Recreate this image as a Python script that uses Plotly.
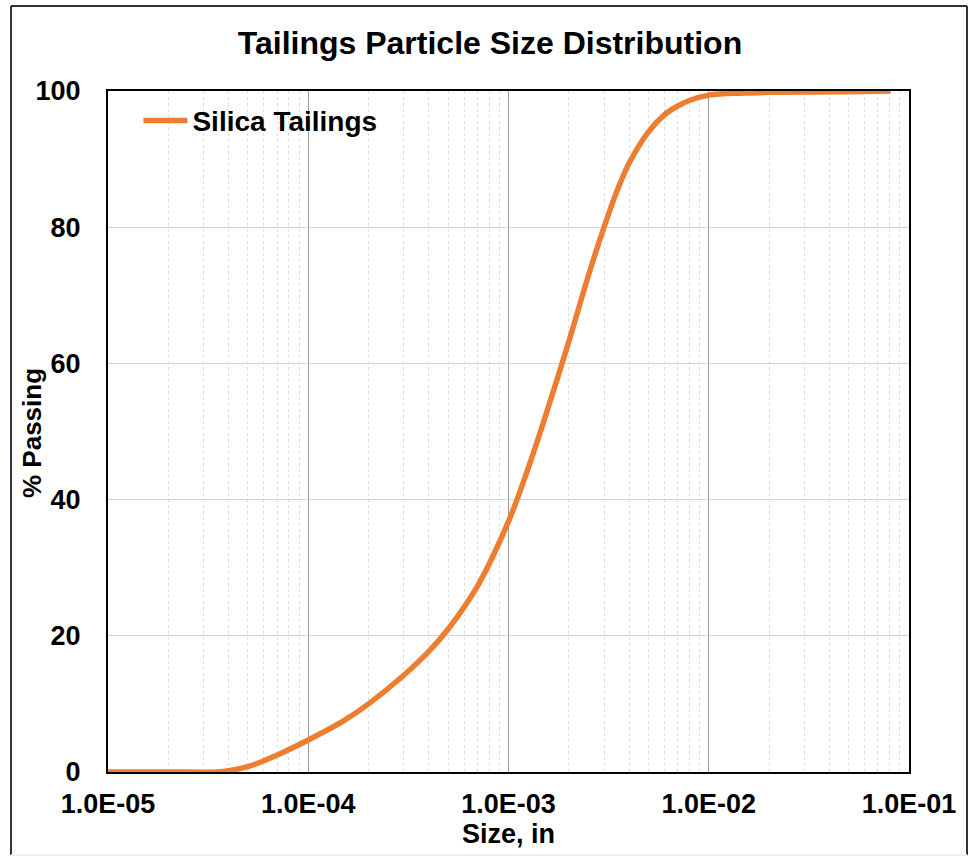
import plotly.graph_objects as go

# Particle size distribution of silica tailings
size_in = [1.0e-5, 2.5e-5, 3.5e-5, 5.0e-5, 7.0e-5, 1.0e-4, 1.5e-4, 2.0e-4, 3.0e-4,
           4.0e-4, 5.0e-4, 7.0e-4, 1.0e-3, 1.2e-3, 1.5e-3, 2.0e-3, 2.5e-3, 3.0e-3,
           3.5e-3, 4.0e-3, 5.0e-3, 6.0e-3, 7.0e-3, 8.0e-3, 1.0e-2, 1.5e-2, 2.0e-2,
           5.0e-2, 8.1e-2]
pct_passing = [0.0, 0.0, 0.0, 0.8, 2.5, 4.7, 7.5, 10.0, 14.2,
               17.7, 21.0, 27.3, 36.8, 43.0, 51.5, 63.2, 72.8, 80.0,
               85.5, 89.4, 94.0, 96.5, 97.8, 98.6, 99.4, 99.7, 99.8,
               99.9, 100.0]

x_tickvals = [1e-5, 1e-4, 1e-3, 1e-2, 1e-1]
x_ticktext = ["1.0E-05", "1.0E-04", "1.0E-03", "1.0E-02", "1.0E-01"]
y_tickvals = [0, 20, 40, 60, 80, 100]

minor_vals = [m * 10.0 ** e for e in range(-5, -1) for m in range(2, 10)]

FONT = "Liberation Sans, Arial, sans-serif"
ORANGE = "#ED7D31"
TICK_FONT = dict(size=27, family=FONT, color="#000000")

fig = go.Figure()
fig.add_trace(go.Scatter(
    x=size_in, y=pct_passing, mode="lines", name="<b>Silica Tailings</b>",
    line=dict(color=ORANGE, width=5.5, shape="spline", smoothing=1.0),
))

fig.update_layout(
    width=970, height=859,
    margin=dict(l=108, r=61, t=91, b=87),
    paper_bgcolor="white", plot_bgcolor="white",
    font=dict(family=FONT, color="#000000"),
    title=dict(text="<b>Tailings Particle Size Distribution</b>",
               x=490 / 970, xanchor="center", xref="container",
               y=1 - 43 / 859, yanchor="middle",
               font=dict(size=32, family=FONT, color="#000000")),
    showlegend=True,
    legend=dict(x=0.038, y=0.993, xanchor="left", yanchor="top",
                bgcolor="rgba(255,255,255,0)", borderwidth=0,
                font=dict(size=28, family=FONT, color="#000000"),
                itemwidth=44),
)

fig.update_xaxes(
    type="log", range=[-5, -1],
    tickvals=x_tickvals, ticktext=[f"<b>{t}</b>" for t in x_ticktext],
    tickfont=TICK_FONT,
    ticks="", ticklabelstandoff=7,
    showgrid=True, gridcolor="#9a9a9a", gridwidth=1,
    minor=dict(tickvals=minor_vals, showgrid=True, gridcolor="#dcdcdc",
               griddash="dot", gridwidth=1, ticks=""),
    showline=True, linecolor="#000000", linewidth=2, mirror=True,
    layer="below traces",
    title=dict(text="<b>Size, in</b>", font=dict(size=27, family=FONT, color="#000000"),
               standoff=6),
    zeroline=False,
)

fig.update_yaxes(
    range=[0, 100], tickvals=y_tickvals,
    ticktext=[f"<b>{v}</b>" for v in y_tickvals],
    tickfont=TICK_FONT,
    ticks="", ticklabelstandoff=20,
    showgrid=True, gridcolor="#d4d4d4", gridwidth=1,
    showline=True, linecolor="#000000", linewidth=2, mirror=True,
    layer="below traces",
    zeroline=False,
)

# Y-axis title, placed between the frame and the tick labels
fig.add_annotation(
    text="<b>% Passing</b>", textangle=-90, showarrow=False,
    xref="paper", yref="paper", x=(32 - 108) / 801, y=(772 - 433) / 681,
    xanchor="center", yanchor="middle",
    font=dict(size=26, family=FONT, color="#000000"),
)

# Outer frame around the whole chart
x0, x1 = -97 / 801, 859 / 801
y0, y1 = -83 / 681, 766 / 681
fig.add_shape(type="line", xref="paper", yref="paper", x0=x0, x1=x0, y0=y0, y1=y1,
              line=dict(color="#333333", width=2))
fig.add_shape(type="line", xref="paper", yref="paper", x0=x0, x1=x1, y0=y1, y1=y1,
              line=dict(color="#333333", width=2))
fig.add_shape(type="line", xref="paper", yref="paper", x0=x1, x1=x1, y0=y0, y1=y1,
              line=dict(color="#333333", width=2))
fig.add_shape(type="line", xref="paper", yref="paper", x0=x0, x1=x1, y0=y0, y1=y0,
              line=dict(color="#eeeeee", width=2))

fig.write_html("out.html")
